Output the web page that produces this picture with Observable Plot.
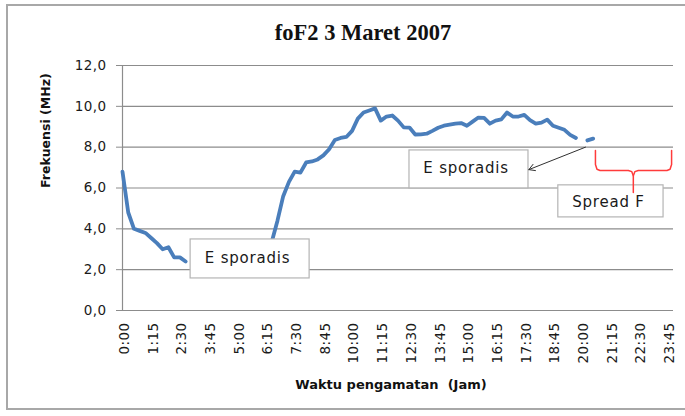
<!DOCTYPE html>
<html><head><meta charset="utf-8">
<script src="https://cdn.jsdelivr.net/npm/d3@7"></script>
<script src="https://cdn.jsdelivr.net/npm/@observablehq/plot@0.6"></script>
<style>
body{margin:0;background:#fff;}
#wrap{position:relative;width:685px;height:416px;overflow:hidden;background:#fff;}
#frame{position:absolute;left:6px;top:4px;width:720px;height:406px;border:2px solid #a8a8a8;border-right:none;box-sizing:border-box;}
#title{position:absolute;left:0;top:21px;width:726px;text-align:center;font-family:"Liberation Serif","Times New Roman",serif;font-weight:bold;font-size:22.5px;line-height:24px;color:#111;}
#chart{position:absolute;left:0;top:0;}
g[aria-label="y-axis tick label"] text, g[aria-label="x-axis tick label"] text{letter-spacing:0.4px;}
g.boxlabel text{letter-spacing:0.8px;}
</style></head>
<body>
<div id="wrap"><div id="frame"></div><div id="title">foF2 3 Maret 2007</div><div id="chart"></div></div>
<script>
// foF2 (MHz) every 15 minutes from 0:00 to 23:45 (null = no data)
const foF2 = [
  6.8, 4.8, 4.0, 3.9, 3.8, 3.55, 3.3, 3.0, 3.1, 2.6, 2.6, 2.4,
  null, null, null, null, null, null, null, null, null, null, null, null, null, null,
  3.35, 4.4, 5.6, 6.3, 6.8, 6.75, 7.25, 7.3, 7.4, 7.6, 7.9, 8.35, 8.45, 8.5,
  8.8, 9.4, 9.7, 9.8, 9.9, 9.3, 9.5, 9.55, 9.3, 8.97, 8.96, 8.62, 8.63, 8.66,
  8.8, 8.95, 9.05, 9.1, 9.15, 9.18, 9.05, 9.25, 9.45, 9.43, 9.15, 9.3, 9.36,
  9.7, 9.5, 9.5, 9.58, 9.32, 9.15, 9.2, 9.35, 9.05, 8.95, 8.85, 8.6, 8.45,
  null, 8.33, 8.42,
  null, null, null, null, null, null, null, null, null, null, null, null, null
];
const stepMinutes = 15;
const tickLabels = ["0:00","1:15","2:30","3:45","5:00","6:15","7:30","8:45","10:00","11:15","12:30","13:45","15:00","16:15","17:30","18:45","20:00","21:15","22:30","23:45"];
const yTicks = [0, 2, 4, 6, 8, 10, 12];
const titleY = "Frekuensi (MHz)";
const titleX = "Waktu pengamatan  (Jam)";

// annotations, in data units (minutes, MHz)
const boxLabels = ["E sporadis", "E sporadis", "Spread F"];
const boxX1 = [178, 750, 1139];
const boxX2 = [489, 1061, 1414];
const boxY1 = [1.57, 5.98, 4.56];
const boxY2 = [3.48, 7.84, 6.13];
const boxTextX = [327, 898, 1270];
const boxTextY = [2.58, 6.98, 5.31];
const arrowFrom = [1210, 8.0];
const arrowTo = [1062, 6.9];
const braceLeft = [[1236,7.84],[1236,7.15],[1240,6.92],[1248,6.86],[1322,6.86],[1331,6.8],[1335,6.6],[1335,5.78]];
const braceRight = [[1335,6.6],[1339,6.8],[1348,6.86],[1423,6.86],[1431,6.92],[1435,7.15],[1435,7.84]];

const tickMinutes = tickLabels.map(s => { const [h, m] = s.split(":"); return +h * 60 + +m; });
const series = foF2.map((v, i) => ({t: i * stepMinutes, v}));
const boxes = boxLabels.map((label, i) => ({label, x1: boxX1[i], x2: boxX2[i], y1: boxY1[i], y2: boxY2[i], tx: boxTextX[i], ty: boxTextY[i]}));
const brace = [...braceLeft.map(([x, y]) => ({x, y, z: "L"})), ...braceRight.map(([x, y]) => ({x, y, z: "R"}))];
const grey = "#8c8c8c";

const chart = Plot.plot({
  width: 685, height: 416,
  marginLeft: 122, marginRight: 12, marginTop: 65, marginBottom: 106,
  x: {domain: [0, 1440]},
  y: {domain: [0, 12]},
  style: {fontFamily: "'DejaVu Sans', sans-serif", fontSize: "13px", color: "#1a1a1a", background: "transparent", overflow: "visible"},
  marks: [
    Plot.gridY(yTicks, {stroke: grey, strokeOpacity: 1, strokeWidth: 1.2}),
    Plot.ruleX([0], {stroke: grey, strokeWidth: 1.2}),
    Plot.axisY(yTicks, {tickFormat: d => d.toFixed(1).replace(".", ","), tickSize: 6, tickPadding: 10, stroke: grey, label: null, fontSize: 13.5}),
    Plot.axisX(tickMinutes, {tickFormat: d => tickLabels[tickMinutes.indexOf(d)], tickRotate: -90, tickSize: 0, tickPadding: 12, label: null, fontSize: 13.5, dx: 2}),
    Plot.text([titleY], {frameAnchor: "left", dx: -77, dy: 0, rotate: -90, fontWeight: "bold", fontSize: 12.5, fill: "#111"}),
    Plot.text([titleX], {frameAnchor: "bottom", dx: -7, dy: 78, fontWeight: "bold", fontSize: 13, fill: "#111"}),
    Plot.line(series, {x: "t", y: "v", stroke: "#4a7ebb", strokeWidth: 3.8, strokeLinejoin: "round", strokeLinecap: "round"}),
    Plot.rect(boxes, {x1: "x1", x2: "x2", y1: "y1", y2: "y2", fill: "white", stroke: "#b4b4b4", strokeWidth: 1.2}),
    Plot.text(boxes, {x: "tx", y: "ty", text: "label", fontSize: 15, fill: "#1a1a1a", className: "boxlabel"}),
    Plot.arrow([{x1: arrowFrom[0], y1: arrowFrom[1], x2: arrowTo[0], y2: arrowTo[1]}], {x1: "x1", y1: "y1", x2: "x2", y2: "y2", stroke: "#303030", strokeWidth: 1, headLength: 10, bend: 0}),
    Plot.line(brace, {x: "x", y: "y", z: "z", stroke: "#ff3b3b", strokeWidth: 1.5})
  ]
});
document.getElementById("chart").appendChild(chart);
</script>
</body></html>
